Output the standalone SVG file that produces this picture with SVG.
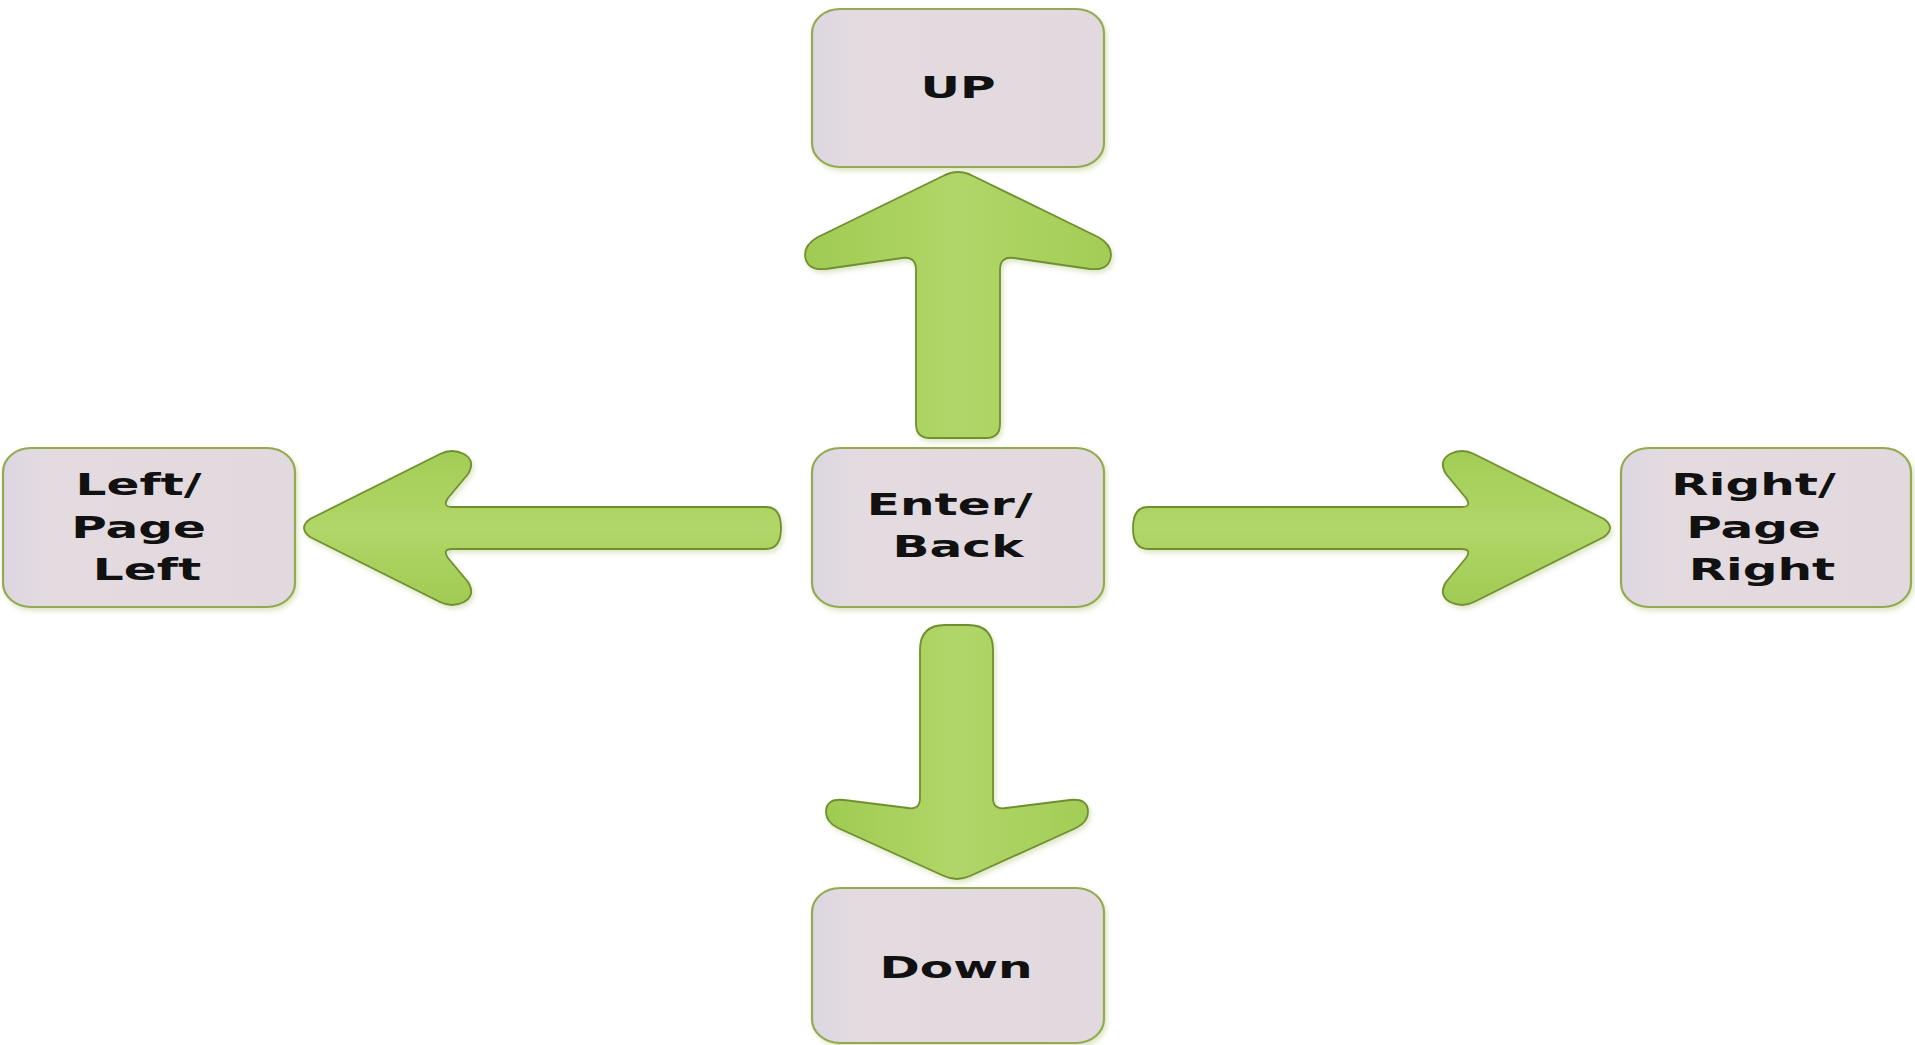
<svg xmlns="http://www.w3.org/2000/svg" width="1915" height="1045" viewBox="0 0 1915 1045">
  <defs>
    <linearGradient id="boxFill" x1="0" y1="0" x2="1" y2="0">
      <stop offset="0" stop-color="#dcd6e2"/>
      <stop offset="0.15" stop-color="#e3dbe0"/>
      <stop offset="1" stop-color="#e1d9dd"/>
    </linearGradient>
    <linearGradient id="arrowFillV" x1="0" y1="0" x2="1" y2="0">
      <stop offset="0" stop-color="#9fcb52"/>
      <stop offset="0.5" stop-color="#b1d668"/>
      <stop offset="1" stop-color="#a2cd56"/>
    </linearGradient>
    <linearGradient id="arrowFillH" x1="0" y1="0" x2="0" y2="1">
      <stop offset="0" stop-color="#a2cd56"/>
      <stop offset="0.5" stop-color="#b1d668"/>
      <stop offset="1" stop-color="#a0cb53"/>
    </linearGradient>
    <filter id="soft" x="-10%" y="-10%" width="120%" height="120%">
      <feDropShadow dx="2" dy="3" stdDeviation="2.5" flood-color="#9fb85a" flood-opacity="0.35"/>
    </filter>
    <style>
      .box { fill: url(#boxFill); stroke: #93aa52; stroke-width: 2.2; filter: url(#soft); }
      .lbl { font-family: "DejaVu Sans", "Verdana", sans-serif; font-weight: bold; font-size: 30px; fill: #111111; text-anchor: middle; }
      .arrow { stroke: #6f8f30; stroke-width: 1.8; stroke-linejoin: round; filter: url(#soft); }
    </style>
  </defs>

  <rect width="1915" height="1045" fill="#ffffff"/>

  <!-- connectors: block arrows from the centre key -->
  <g id="connectors">
    <!-- up -->
    <path class="arrow" fill="url(#arrowFillV)" d="M 916 424 L 916 270 Q 916 256 902 258 L 826 269 Q 806 271 805 255 Q 805 244 818 237 L 943 176 Q 958 168 973 176 L 1098 237 Q 1111 244 1111 255 Q 1110 271 1090 269 L 1014 258 Q 1000 256 1000 270 L 1000 424 Q 1000 438 986 438 L 930 438 Q 916 438 916 424 Z"/>
    <!-- down -->
    <path class="arrow" fill="url(#arrowFillV)" d="M 920 650 Q 920 625 945 625 L 968 625 Q 993 625 993 650 L 993 798 Q 993 810 1006 808 L 1070 800 Q 1088 798 1088 812 Q 1088 822 1076 828 L 970 876 Q 957 882 944 876 L 838 828 Q 826 822 826 812 Q 826 798 844 800 L 908 808 Q 920 810 920 798 Z"/>
    <!-- left -->
    <path class="arrow" fill="url(#arrowFillH)" d="M 766 507 Q 781 507 781 528 Q 781 549 766 549 L 452 549 Q 442 549 448 558 L 468 582 Q 476 595 464 602 Q 452 608 440 602 L 310 537 Q 298 528 310 519 L 440 454 Q 452 448 464 454 Q 476 461 468 474 L 448 498 Q 442 507 452 507 Z"/>
    <!-- right -->
    <path class="arrow" fill="url(#arrowFillH)" d="M 1148 507 L 1462 507 Q 1472 507 1466 498 L 1446 474 Q 1438 461 1450 454 Q 1462 448 1474 454 L 1604 519 Q 1616 528 1604 537 L 1474 602 Q 1462 608 1450 602 Q 1438 595 1446 582 L 1466 558 Q 1472 549 1462 549 L 1148 549 Q 1133 549 1133 528 Q 1133 507 1148 507 Z"/>
  </g>

  <g id="node-up">
    <rect class="box" x="812" y="9" width="292" height="158" rx="28" ry="24"/>
    <text class="lbl" transform="translate(958,0) scale(1.62,1)" x="0" y="98">UP</text>
  </g>

  <g id="node-enter">
    <rect class="box" x="812" y="448" width="292" height="159" rx="28" ry="24"/>
    <text class="lbl" transform="translate(958,0) scale(1.62,1)">
      <tspan x="0" y="515">Enter/</tspan>
      <tspan x="0" y="557">Back</tspan>
    </text>
  </g>

  <g id="node-left">
    <rect class="box" x="3" y="448" width="292" height="159" rx="28" ry="24"/>
    <text class="lbl" transform="translate(147,0) scale(1.62,1)">
      <tspan x="0" y="495">Left/</tspan>
      <tspan x="0" y="538">Page</tspan>
      <tspan x="0" y="580">Left</tspan>
    </text>
  </g>

  <g id="node-right">
    <rect class="box" x="1621" y="448" width="290" height="159" rx="28" ry="24"/>
    <text class="lbl" transform="translate(1762,0) scale(1.62,1)">
      <tspan x="0" y="495">Right/</tspan>
      <tspan x="0" y="538">Page</tspan>
      <tspan x="0" y="580">Right</tspan>
    </text>
  </g>

  <g id="node-down">
    <rect class="box" x="812" y="888" width="292" height="155" rx="28" ry="24"/>
    <text class="lbl" transform="translate(956,0) scale(1.62,1)" x="0" y="978">Down</text>
  </g>
</svg>
